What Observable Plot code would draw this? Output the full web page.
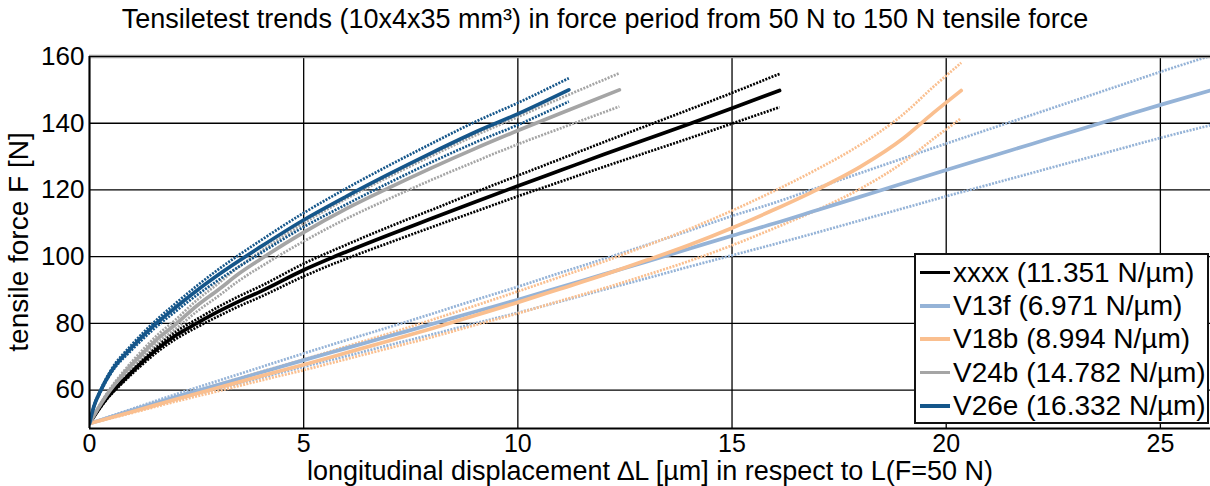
<!DOCTYPE html>
<html><head><meta charset="utf-8">
<script src="https://cdn.jsdelivr.net/npm/d3@7"></script>
<script src="https://cdn.jsdelivr.net/npm/@observablehq/plot@0.6"></script>
<style>
body{margin:0;background:#fff;font-family:Arial,"Liberation Sans",sans-serif;}
#wrap{position:relative;width:1210px;height:486px;overflow:hidden;background:#fff;}
#chart{position:absolute;left:0;top:0;}
#overlay{position:absolute;left:0;top:0;pointer-events:none;}
#legend{position:absolute;left:914px;top:253px;width:295px;height:171px;box-sizing:border-box;border:2px solid #111;background:#fff;padding-top:1px;}
.row{display:flex;align-items:center;height:33.3px;font-size:28px;color:#000;white-space:nowrap;}
.sw{width:30px;height:3.5px;margin-left:4px;margin-right:3px;flex:none;}
</style></head><body>
<div id="wrap">
  <div id="chart"></div>
  <svg id="overlay" width="1210" height="486"></svg>
  <div id="legend"></div>
</div>
<script>
// ---- data ----
const seriesNames = ["xxxx", "V13f", "V18b", "V24b", "V26e"];
const stiffness = [11.351, 6.971, 8.994, 14.782, 16.332];
const seriesColors = ["#000000", "#95b3d7", "#fabf8f", "#a5a5a5", "#15568a"];
const xTicks = [0, 5, 10, 15, 20, 25];
const yTicks = [60, 80, 100, 120, 140, 160];

// xxxx (black)
const xxxxX   = [0, 0.2, 0.4, 0.8, 1.2, 1.6, 2, 2.5, 3, 3.5, 4, 5, 6, 7, 8, 9, 10, 11, 12, 13, 14, 15, 16.11];
const xxxxMid = [50, 54, 57.5, 63, 68, 72.5, 76.3, 80, 83.5, 86.7, 89.6, 96, 101.5, 106.6, 111.5, 116.4, 121.2, 125.9, 130.6, 135.2, 139.8, 144.5, 149.8];
const xxxxUp  = [50, 54.2, 57.8, 63.5, 68.7, 73.4, 77.4, 81.2, 84.9, 88.2, 91.2, 97.9, 103.6, 109, 114.1, 119.3, 124.3, 129.3, 134.3, 139.2, 144.1, 149.1, 154.8];
const xxxxLow = [50, 53.8, 57.2, 62.5, 67.3, 71.6, 75.2, 78.8, 82.1, 85.2, 88, 94.1, 99.4, 104.2, 108.9, 113.5, 118.1, 122.5, 126.9, 131.2, 135.5, 139.9, 144.8];

// V13f (light blue)
const v13fX   = [0, 1, 2, 3, 4, 5, 6, 7, 8, 9, 10, 11, 12, 13, 14, 15, 16, 17, 18, 19, 20, 21, 22, 23, 24, 25, 26.17];
const v13fMid = [50, 54, 57.9, 61.6, 65.3, 69, 72.6, 76.2, 79.8, 83.5, 87.1, 90.9, 94.7, 98.5, 102.4, 106.3, 110, 114, 118, 122, 126, 129.9, 133.8, 137.7, 141.6, 145.5, 149.8];
const v13fUp  = [50, 54.4, 58.7, 62.8, 66.9, 71, 75, 78.9, 82.9, 87, 91, 95.2, 99.3, 103.5, 107.8, 112.2, 116.2, 120.7, 125.1, 129.5, 133.9, 138.2, 142.5, 146.8, 151.1, 155.4, 160.2];
const v13fLow = [50, 53.6, 57.1, 60.4, 63.7, 67, 70.2, 73.5, 76.7, 80, 83.2, 86.6, 90.1, 93.5, 97, 100.4, 103.8, 107.3, 110.9, 114.5, 118.1, 121.6, 125.1, 128.6, 132.1, 135.6, 139.4];

// V18b (orange)
const v18bX   = [0, 1, 2, 3, 4, 5, 6, 7, 8, 9, 10, 11, 12, 13, 14, 15, 16, 17, 18, 19, 19.7, 20.35];
const v18bMid = [50, 53.5, 57.2, 60.7, 64.2, 67.6, 71.2, 74.8, 78.5, 82.4, 86.3, 90.4, 94.5, 98.9, 103.5, 108.6, 114.2, 120.2, 127, 135.5, 143.1, 149.8];
const v18bUp  = [50, 53.8, 57.85, 61.7, 65.5, 69.2, 73.1, 77, 81.1, 85.3, 89.6, 94, 98.5, 103.3, 108.3, 113.8, 119.8, 126.3, 133.6, 142.7, 150.9, 158.1];
const v18bLow = [50, 53.2, 56.55, 59.7, 62.9, 66, 69.3, 72.6, 75.9, 79.5, 83, 86.8, 90.5, 94.5, 98.7, 103.4, 108.6, 114.1, 120.4, 128.3, 135.3, 141.5];

// V24b (grey)
const v24bX   = [0, 0.2, 0.4, 0.8, 1.2, 1.6, 2, 2.5, 3, 3.5, 4, 5, 6, 7, 8, 9, 10, 11, 12.37];
const v24bMid = [50, 54.5, 58.5, 65, 70.5, 75.5, 79.6, 85.2, 90, 95, 99.3, 107.3, 114.4, 120.7, 126.7, 132.4, 137.8, 143, 150];
const v24bUp  = [50, 54.7, 58.9, 65.7, 71.5, 76.7, 81, 86.9, 91.9, 97.1, 101.6, 110, 117.4, 124, 130.3, 136.3, 141.9, 147.5, 155];
const v24bLow = [50, 54.3, 58.1, 64.3, 69.5, 74.3, 78.2, 83.5, 88.1, 92.9, 97, 104.6, 111.4, 117.4, 123.1, 128.5, 133.7, 138.5, 145];

// V26e (dark blue)
const v26eX   = [0, 0.1, 0.25, 0.5, 1, 1.5, 2, 2.5, 3, 4, 5, 6, 7, 8, 9, 10, 11.19];
const v26eMid = [50, 55, 59.6, 65.5, 73, 79.3, 84.7, 89.8, 94.5, 103, 111, 118.1, 124.8, 131.2, 137.3, 142.8, 150];
const v26eUp  = [50, 55.2, 59.9, 66, 73.8, 80.3, 85.9, 91.2, 96.1, 104.9, 113.1, 120.5, 127.4, 134, 140.4, 146.1, 153.5];
const v26eLow = [50, 54.8, 59.3, 65, 72.2, 78.3, 83.5, 88.4, 92.9, 101.1, 108.9, 115.7, 122.2, 128.4, 134.2, 139.5, 146.5];

// ---- build table ----
const seriesData = [
  [xxxxX, xxxxMid, xxxxUp, xxxxLow],
  [v13fX, v13fMid, v13fUp, v13fLow],
  [v18bX, v18bMid, v18bUp, v18bLow],
  [v24bX, v24bMid, v24bUp, v24bLow],
  [v26eX, v26eMid, v26eUp, v26eLow]
];
const midRows = [], boundRows = [];
seriesData.forEach(([xs, mid, up, low], i) => {
  const s = seriesNames[i];
  xs.forEach((x, j) => {
    midRows.push({x, F: mid[j], series: s});
    boundRows.push({x, F: up[j], series: s, key: s + "-up"});
    boundRows.push({x, F: low[j], series: s, key: s + "-low"});
  });
});

const font = "Arial, 'Liberation Sans', sans-serif";
const chart = Plot.plot({
  width: 1210, height: 486,
  marginLeft: 89, marginRight: 0, marginTop: 56, marginBottom: 58,
  x: {domain: [0, 26.17]},
  y: {domain: [48.5, 160]},
  color: {domain: seriesNames, range: seriesColors},
  style: {fontFamily: font, color: "#000", background: "transparent", overflow: "visible"},
  marks: [
    Plot.gridX(xTicks, {stroke: "#000", strokeOpacity: 1, strokeWidth: 1.3}),
    Plot.gridY(yTicks, {stroke: "#000", strokeOpacity: 1, strokeWidth: 1.3}),
    Plot.line(boundRows, {x: "x", y: "F", z: "key", stroke: "series", strokeWidth: 2.7, strokeDasharray: "2,1.3", strokeLinecap: "butt", curve: "monotone-x", clip: true}),
    Plot.line(midRows, {x: "x", y: "F", z: "series", stroke: "series", strokeWidth: 3.7, curve: "monotone-x", clip: true}),
    Plot.ruleY([160], {stroke: "#999", strokeWidth: 3.5}),
    Plot.ruleY([160], {stroke: "#000", strokeWidth: 1}),
    Plot.ruleX([0], {stroke: "#000", strokeWidth: 2}),
    Plot.ruleY([48.5], {stroke: "#000", strokeWidth: 2}),
    Plot.axisX(xTicks, {tickSize: 0, tickPadding: 6, fontSize: 25, label: null}),
    Plot.axisY(yTicks, {tickSize: 0, tickPadding: 5, fontSize: 26, label: null})
  ]
});
document.getElementById("chart").appendChild(chart);

// titles / axis labels
const ov = d3.select("#overlay").style("font-family", font);
ov.append("text").attr("x", 605).attr("y", 28).attr("text-anchor", "middle").attr("font-size", 27)
  .text("Tensiletest trends (10x4x35 mm³) in force period from 50 N to 150 N tensile force");
ov.append("text").attr("x", 650).attr("y", 480).attr("text-anchor", "middle").attr("font-size", 27)
  .text("longitudinal displacement \u2206L [µm] in respect to L(F=50 N)");
ov.append("text").attr("transform", "translate(28,242) rotate(-90)").attr("text-anchor", "middle").attr("font-size", 28)
  .text("tensile force F [N]");

// legend
const lg = d3.select("#legend");
seriesNames.forEach((s, i) => {
  const row = lg.append("div").attr("class", "row");
  row.append("div").attr("class", "sw").style("background", seriesColors[i]);
  row.append("span").text(`${s} (${stiffness[i].toFixed(3)} N/µm)`);
});
</script>
</body></html>
